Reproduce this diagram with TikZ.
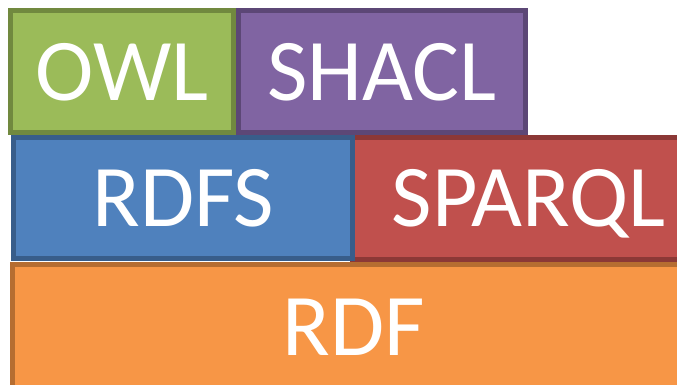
\documentclass[tikz,border=0pt]{standalone}
\usepackage{fontspec}
\setmainfont{Carlito}
\definecolor{owlfill}{HTML}{9BBB59}\definecolor{owlline}{HTML}{71893F}
\definecolor{shfill}{HTML}{8064A2}\definecolor{shline}{HTML}{5C4776}
\definecolor{rdfsfill}{HTML}{4F81BD}\definecolor{rdfsline}{HTML}{385D8A}
\definecolor{spfill}{HTML}{C0504D}\definecolor{spline}{HTML}{8C3836}
\definecolor{rdffill}{HTML}{F79646}\definecolor{rdfline}{HTML}{B66D31}
\tikzset{layer/.style={rectangle, line width=5pt, text=white, inner sep=0pt, text depth=0pt,
  font=\fontsize{88}{100}\selectfont}}
\begin{document}
\begin{tikzpicture}[x=1pt,y=-1pt]
\useasboundingbox (0,0) rectangle (677,384);
\clip (0,0) rectangle (677,384);
\fill[white] (0,0) rectangle (677,384);
\node[layer, fill=owlfill, draw=owlline, minimum width=223pt, minimum height=122pt] (owl) at (122,71.5) {OWL};
\node[layer, fill=shfill, draw=shline, minimum width=287.5pt, minimum height=122pt] (shacl) at (381.75,71.5) {SHACL};
\node[layer, fill=spfill, draw=spline, minimum width=353pt, minimum height=122.5pt] (sparql) at (528.5,198.25) {SPARQL};
\node[layer, fill=rdfsfill, draw=rdfsline, minimum width=339pt, minimum height=121pt] (rdfs) at (183,198) {RDFS};
\node[layer, fill=rdffill, draw=rdfline, minimum width=683pt, minimum height=126pt] (rdf) at (353.5,327) {RDF};
\end{tikzpicture}
\end{document}
